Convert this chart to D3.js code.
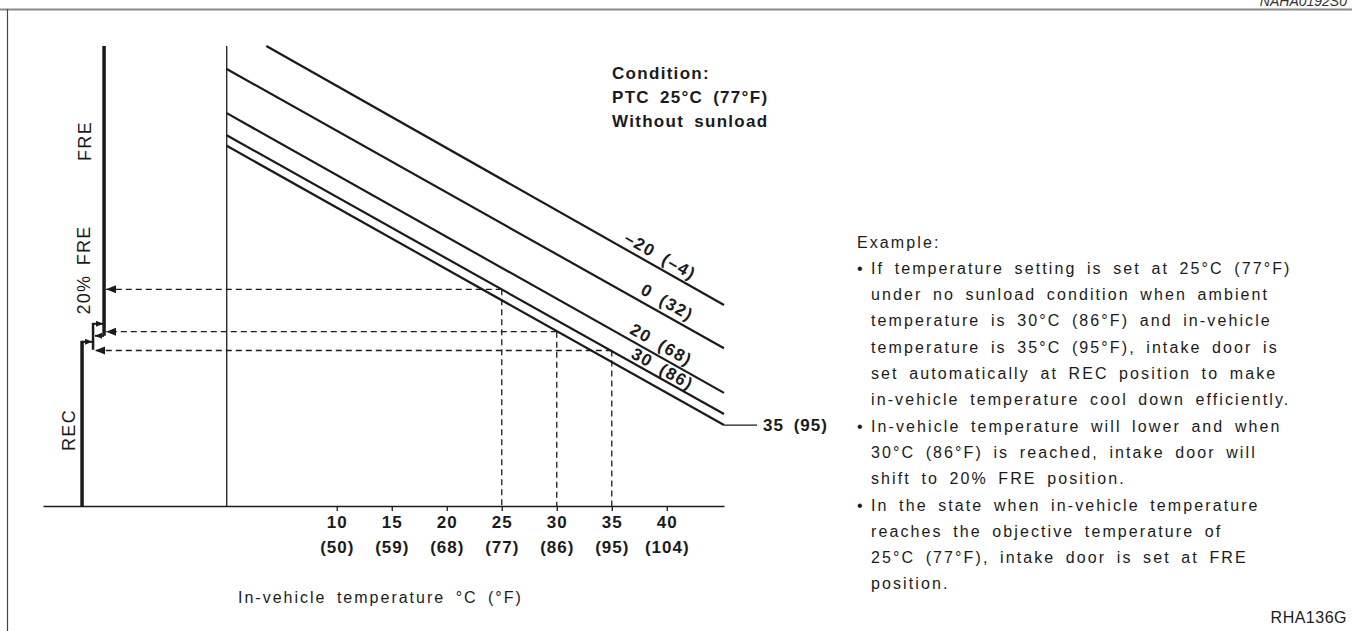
<!DOCTYPE html>
<html><head><meta charset="utf-8">
<script src="https://cdn.jsdelivr.net/npm/d3@7"></script>
<style>
html,body{margin:0;padding:0;background:#fff;}
svg{display:block;font-family:"Liberation Sans",Arial,Helvetica,sans-serif;}
</style></head><body>
<svg id="chart" width="1352" height="631"></svg>
<script>
// ---------------- data ----------------
const ambientLabels = ["–20 (–4)", "0 (32)", "20 (68)", "30 (86)", "35 (95)"];
const lineStartT = [3.6, 0, 0, 0, 0];
const lineStartV = [100, 95.0, 85.4, 80.6, 78.3];
const lineEndT = [45.2, 45.2, 45.2, 45.2, 45.2];
const lineEndV = [43.7, 34.3, 24.6, 20.0, 17.6];
const tickC = [10, 15, 20, 25, 30, 35, 40];
const tickF = ["(50)", "(59)", "(68)", "(77)", "(86)", "(95)", "(104)"];
const exampleT = [25, 30, 35];
const exampleV = [47.1, 37.9, 33.8];
const doorLabels = ["FRE", "20% FRE", "REC"];
const doorSwitchV = [39.6, 35.7];
const conditionLines = ["Condition:", "PTC 25°C (77°F)", "Without sunload"];
const axisTitle = "In-vehicle temperature °C (°F)";
const exampleHeading = "Example:";
const exampleText = [
  ["•", "If temperature setting is set at 25°C (77°F)"],
  ["", "under no sunload condition when ambient"],
  ["", "temperature is 30°C (86°F) and in-vehicle"],
  ["", "temperature is 35°C (95°F), intake door is"],
  ["", "set automatically at REC position to make"],
  ["", "in-vehicle temperature cool down efficiently."],
  ["•", "In-vehicle temperature will lower and when"],
  ["", "30°C (86°F) is reached, intake door will"],
  ["", "shift to 20% FRE position."],
  ["•", "In the state when in-vehicle temperature"],
  ["", "reaches the objective temperature of"],
  ["", "25°C (77°F), intake door is set at FRE"],
  ["", "position."]
];
const figureCode = "RHA136G";
const topCode = "NAHA0192S0";

// ---------------- layout ----------------
const svg = d3.select("#chart");
const ink = "#1b1b1b";
const x = d3.scaleLinear().domain([-16.7, 45.2]).range([43, 724]);
const y = d3.scaleLinear().domain([0, 100]).range([506, 46]);

// frame
svg.append("line").attr("x1", 0).attr("x2", 1352).attr("y1", 9.5).attr("y2", 9.5)
  .attr("stroke", "#8a8a8a").attr("stroke-width", 2);
svg.append("line").attr("x1", 7.5).attr("x2", 7.5).attr("y1", 9).attr("y2", 631)
  .attr("stroke", "#444").attr("stroke-width", 1.2);
svg.append("text").attr("x", 1347).attr("y", 6).attr("text-anchor", "end")
  .attr("font-size", 14).attr("font-style", "italic").attr("fill", "#333").text(topCode);

// markers
const defs = svg.append("defs");
defs.append("marker").attr("id", "ah").attr("markerUnits", "userSpaceOnUse")
  .attr("markerWidth", 11).attr("markerHeight", 9).attr("refX", 10).attr("refY", 4.5)
  .attr("orient", "auto")
  .append("path").attr("d", "M0,0.5 L10,4.5 L0,8.5 Z").attr("fill", ink);
defs.append("marker").attr("id", "ahs").attr("markerUnits", "userSpaceOnUse")
  .attr("markerWidth", 8).attr("markerHeight", 7).attr("refX", 7).attr("refY", 3.5)
  .attr("orient", "auto")
  .append("path").attr("d", "M0,0.5 L7,3.5 L0,6.5 Z").attr("fill", ink);

// x axis
const xAxis = svg.append("g").attr("transform", `translate(0,${y(0)})`)
  .call(d3.axisBottom(x).tickValues(tickC).tickSize(5).tickSizeOuter(0).tickFormat(""));
xAxis.select(".domain").attr("stroke", ink).attr("stroke-width", 1.6);
xAxis.selectAll(".tick line").attr("stroke", ink).attr("stroke-width", 1.3);

const tl = svg.append("g").attr("font-weight", "bold").attr("font-size", 17)
  .attr("fill", ink).attr("text-anchor", "middle").style("letter-spacing", "1px");
tickC.forEach((t, i) => {
  tl.append("text").attr("x", x(t) + 0.5).attr("y", y(0) + 22).text(String(t));
  tl.append("text").attr("x", x(t) + 0.5).attr("y", y(0) + 47).text(tickF[i]);
});

svg.append("text").attr("x", 238).attr("y", 603).attr("font-size", 16).attr("fill", ink)
  .style("letter-spacing", "2px").style("word-spacing", "4px").text(axisTitle);

// y reference line (T = 0)
svg.append("line").attr("x1", x(0)).attr("x2", x(0)).attr("y1", y(100)).attr("y2", y(0))
  .attr("stroke", ink).attr("stroke-width", 1.3);

// sloped lines
const lines = svg.append("g");
ambientLabels.forEach((lab, i) => {
  lines.append("line")
    .attr("x1", x(lineStartT[i])).attr("y1", y(lineStartV[i]))
    .attr("x2", x(lineEndT[i])).attr("y2", y(lineEndV[i]))
    .attr("stroke", ink).attr("stroke-width", 2.2).attr("stroke-linecap", "butt");
});

// line labels (first four along the line)
const labelT = [38.9, 39.5, 39.0, 39.2];
const labelOff = [11, 12, 11, 9];
for (let i = 0; i < 4; i++) {
  const x0 = x(lineStartT[i]), y0 = y(lineStartV[i]);
  const x1 = x(lineEndT[i]), y1 = y(lineEndV[i]);
  const dx = x1 - x0, dy = y1 - y0, len = Math.hypot(dx, dy);
  const ang = Math.atan2(dy, dx) * 180 / Math.PI;
  const px = x(labelT[i]);
  const py = y0 + (px - x0) * dy / dx;
  const nx = dy / len, ny = -dx / len;
  svg.append("text")
    .attr("transform", `translate(${px + nx * labelOff[i]},${py + ny * labelOff[i]}) rotate(${ang})`)
    .attr("text-anchor", "middle").attr("dominant-baseline", "central")
    .attr("font-size", 17).attr("font-weight", "bold").attr("fill", ink)
    .style("letter-spacing", "1.5px").style("word-spacing", "4px")
    .text(ambientLabels[i]);
}
// last label with leader
{
  const i = 4;
  const ex = x(lineEndT[i]), ey = y(lineEndV[i]);
  svg.append("line").attr("x1", ex).attr("x2", ex + 33).attr("y1", ey).attr("y2", ey)
    .attr("stroke", ink).attr("stroke-width", 1.2);
  svg.append("text").attr("x", ex + 39).attr("y", ey).attr("dominant-baseline", "central")
    .attr("font-size", 17).attr("font-weight", "bold").attr("fill", ink)
    .style("letter-spacing", "1px").style("word-spacing", "4px").text(ambientLabels[i]);
}

// door position thick line
const doorT = [-11.15, -12.15, -13.15];
const fx = x(doorT[0]), mx = x(doorT[1]), rx = x(doorT[2]);
const hi = y(doorSwitchV[0]), lo = y(doorSwitchV[1]);
svg.append("line").attr("x1", fx).attr("x2", fx).attr("y1", y(100)).attr("y2", hi + 12)
  .attr("stroke", ink).attr("stroke-width", 3.5);
svg.append("line").attr("x1", rx).attr("x2", rx).attr("y1", lo - 1).attr("y2", y(0))
  .attr("stroke", ink).attr("stroke-width", 3.5);
svg.append("line").attr("x1", mx).attr("x2", mx).attr("y1", hi - 1).attr("y2", lo + 8)
  .attr("stroke", ink).attr("stroke-width", 2.5);
svg.append("line").attr("x1", mx).attr("x2", fx - 1).attr("y1", hi).attr("y2", hi)
  .attr("stroke", ink).attr("stroke-width", 2).attr("marker-end", "url(#ahs)");
svg.append("line").attr("x1", rx).attr("x2", mx - 1).attr("y1", lo).attr("y2", lo)
  .attr("stroke", ink).attr("stroke-width", 2).attr("marker-end", "url(#ahs)");
svg.append("line").attr("x1", fx).attr("x2", mx + 2).attr("y1", hi + 12).attr("y2", hi + 12)
  .attr("stroke", ink).attr("stroke-width", 2).attr("marker-end", "url(#ahs)");

// door labels (rotated)
const doorLabelPos = [[85, 141], [84, 270], [69, 430]];
doorLabels.forEach((t, i) => {
  svg.append("text")
    .attr("transform", `translate(${doorLabelPos[i][0]},${doorLabelPos[i][1]}) rotate(-90)`)
    .attr("text-anchor", "middle").attr("dominant-baseline", "central")
    .attr("font-size", 18).attr("fill", ink).style("letter-spacing", "1.3px")
    .style("word-spacing", "3px").text(t);
});

// example dashed lines
const tipX = [fx + 2, fx + 2, mx + 2];
exampleT.forEach((t, i) => {
  const vx = x(t), vy = y(exampleV[i]);
  svg.append("line").attr("x1", vx).attr("x2", vx).attr("y1", vy).attr("y2", y(0))
    .attr("stroke", ink).attr("stroke-width", 1.3).attr("stroke-dasharray", "6,4");
  svg.append("line").attr("x1", vx).attr("x2", tipX[i]).attr("y1", vy).attr("y2", vy)
    .attr("stroke", ink).attr("stroke-width", 1.3).attr("stroke-dasharray", "6,4")
    .attr("marker-end", "url(#ah)");
});

// condition block
conditionLines.forEach((t, i) => {
  svg.append("text").attr("x", 612).attr("y", 79 + i * 24)
    .attr("font-size", 17).attr("font-weight", "bold").attr("fill", ink)
    .style("letter-spacing", "1.3px").style("word-spacing", "4px").text(t);
});

// example text block
const tb = svg.append("g").attr("font-size", 16).attr("fill", ink)
  .style("letter-spacing", "2.1px").style("word-spacing", "4px");
const rowH = 26.3, row0 = 247.5;
tb.append("text").attr("x", 857).attr("y", row0).text(exampleHeading);
exampleText.forEach((r, i) => {
  const yy = row0 + (i + 1) * rowH;
  if (r[0]) tb.append("text").attr("x", 857).attr("y", yy).text(r[0]);
  tb.append("text").attr("x", 871).attr("y", yy).text(r[1]);
});
svg.append("text").attr("x", 1347).attr("y", 623).attr("text-anchor", "end")
  .attr("font-size", 16).attr("fill", ink).style("letter-spacing", "0.5px").text(figureCode);
</script>
</body></html>
